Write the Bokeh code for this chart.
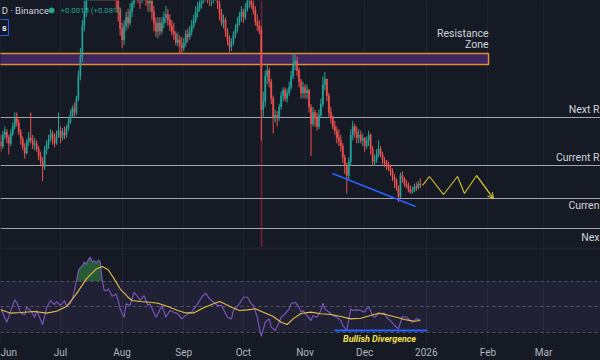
from bokeh.plotting import figure
from bokeh.layouts import column
from bokeh.models import (ColumnDataSource, Range1d, FixedTicker, Arrow, OpenHead,
                          Span, GlobalInlineStyleSheet)
from bokeh.core.properties import value
from bokeh.embed import file_html
from bokeh.resources import INLINE

# ---------------- data (x = days since 2025-07-01) ----------------
first_day = -30
first_open = 2.19
jun_c = [2.16,2.24,2.26,2.22,2.18,2.25,2.30,2.36,2.33,2.26, 2.21,2.15,2.11,2.19,2.22,2.20,2.17,2.18,2.14,2.09,
         2.05,2.01,2.13,2.17,2.21,2.25,2.22,2.18,2.24,2.27]
jun_h = [2.24,2.27,2.30,2.28,2.24,2.28,2.33,2.40,2.40,2.35, 2.28,2.23,2.18,2.21,2.26,2.40,2.24,2.22,2.20,2.16,
         2.12,2.08,2.16,2.20,2.24,2.28,2.27,2.25,2.27,2.40]
jun_l = [2.12,2.14,2.21,2.18,2.10,2.16,2.23,2.28,2.30,2.24, 2.17,2.13,2.07,2.10,2.16,2.18,2.14,2.13,2.12,2.06,
         2.02,1.91,1.99,2.10,2.14,2.19,2.17,2.15,2.17,2.22]
jul_c = [2.22,2.26,2.24,2.29,2.33,2.38,2.43,2.40,2.50,2.66, 2.80,3.02,3.12,3.30,3.40,3.45,3.55,3.58,3.50,3.52,
         3.56,3.45,3.38,3.30,3.35,3.38,3.32,3.28,3.22,3.12, 3.00]
jul_h = [2.30,2.29,2.30,2.31,2.36,2.42,2.45,2.47,2.52,2.70, 2.86,3.06,3.20,3.35,3.50,3.55,3.62,3.66,3.62,3.60,
         3.65,3.60,3.50,3.42,3.40,3.45,3.42,3.38,3.32,3.26, 3.15]
jul_l = [2.18,2.20,2.21,2.22,2.27,2.32,2.36,2.37,2.38,2.48, 2.63,2.76,2.98,3.08,3.28,3.36,3.40,3.45,3.42,3.44,
         3.47,3.40,3.30,3.24,3.26,3.30,3.25,3.22,3.14,3.05, 2.95]
aug_c = [2.92,3.02,3.08,3.04,3.12,3.18,3.35,3.30,3.25,3.22, 3.28,3.30,3.22,3.18,3.20,3.12,3.04,2.98,3.04,2.98,
         3.04,3.08,3.10,3.06,3.02,2.98,2.96,2.90,2.92,2.88, 2.86]
aug_h = [3.04,3.06,3.12,3.14,3.18,3.24,3.40,3.38,3.35,3.30, 3.34,3.38,3.35,3.28,3.26,3.24,3.16,3.08,3.08,3.08,
         3.08,3.12,3.16,3.14,3.10,3.06,3.04,2.98,2.97,2.95, 2.94]
aug_l = [2.86,2.88,2.98,3.00,3.02,3.08,3.15,3.22,3.18,3.14, 3.18,3.22,3.16,3.12,3.12,3.06,2.98,2.94,2.93,2.95,
         2.96,3.00,3.04,3.02,2.98,2.95,2.92,2.88,2.87,2.82, 2.82]
sep_c = [2.90,2.96,2.94,2.98,3.02,3.06,3.12,3.15,3.18,3.22, 3.25,3.28,3.24,3.20,3.22,3.25,3.28,3.18,3.10,3.04,
         3.06,2.98,2.92,2.87,2.90,2.96,3.00,3.04,3.09,3.12]
sep_h = [2.93,2.99,3.00,3.02,3.06,3.10,3.16,3.19,3.22,3.28, 3.30,3.34,3.32,3.28,3.28,3.30,3.32,3.30,3.22,3.14,
         3.10,3.08,3.00,2.95,2.93,2.98,3.03,3.08,3.12,3.16]
sep_l = [2.84,2.87,2.90,2.92,2.95,3.00,3.04,3.08,3.12,3.14, 3.18,3.20,3.18,3.16,3.16,3.18,3.20,3.14,3.06,3.02,
         3.00,2.94,2.88,2.83,2.84,2.88,2.93,2.97,3.02,3.05]
oct_c = [3.08,3.14,3.20,3.22,3.17,3.13,3.05,3.02,2.99,2.42, 2.48,2.66,2.70,2.62,2.50,2.36,2.38,2.36,2.44,2.52,
         2.56,2.50,2.54,2.58,2.66,2.74,2.77,2.70,2.62,2.54, 2.58]
oct_h = [3.14,3.18,3.24,3.28,3.26,3.22,3.16,3.10,3.06,3.02, 2.55,2.70,2.74,2.72,2.64,2.52,2.42,2.41,2.46,2.55,
         2.58,2.58,2.57,2.62,2.70,2.82,2.82,2.80,2.72,2.64, 2.62]
oct_l = [3.04,3.06,3.12,3.15,3.14,3.10,3.02,2.98,2.96,2.20, 2.36,2.44,2.60,2.58,2.46,2.25,2.33,2.30,2.34,2.42,
         2.48,2.48,2.47,2.52,2.56,2.64,2.70,2.66,2.58,2.50, 2.50]
nov_c = [2.54,2.56,2.44,2.32,2.40,2.36,2.30,2.38,2.46,2.60, 2.64,2.52,2.40,2.36,2.30,2.27,2.22,2.20,2.16,2.08,
         2.02,1.95,2.05,2.24,2.30,2.26,2.22,2.24,2.20,2.22]
nov_h = [2.60,2.60,2.57,2.46,2.44,2.42,2.40,2.42,2.50,2.66, 2.69,2.64,2.54,2.44,2.38,2.34,2.30,2.28,2.24,2.18,
         2.10,2.04,2.08,2.28,2.34,2.32,2.30,2.28,2.27,2.25]
nov_l = [2.50,2.50,2.40,2.09,2.30,2.30,2.27,2.28,2.36,2.44, 2.56,2.48,2.36,2.32,2.28,2.24,2.18,2.16,2.12,2.04,
         1.96,1.82,1.92,2.02,2.20,2.22,2.18,2.18,2.18,2.16]
dec_c = [2.16,2.20,2.24,2.14,2.05,2.06,2.10,2.14,2.10,2.06, 2.04,2.02,2.00,1.98,1.94,1.92,1.86,1.80,1.95,1.93,
         1.89,1.88,1.85,1.83,1.84,1.87,1.86,1.89,1.88]
dec_h = [2.22,2.23,2.27,2.25,2.16,2.10,2.14,2.20,2.16,2.12, 2.08,2.06,2.05,2.03,2.00,1.96,1.93,1.88,1.97,1.98,
         1.94,1.92,1.90,1.88,1.87,1.89,1.90,1.91,1.93]
dec_l = [2.12,2.14,2.16,2.10,2.02,2.02,2.04,2.08,2.08,2.03, 2.01,1.99,1.98,1.95,1.91,1.86,1.84,1.76,1.79,1.90,
         1.87,1.86,1.83,1.82,1.82,1.83,1.84,1.85,1.86]

zone_x = [-34.0, 215.3]
zone_price = [2.743, 2.821]
levels = [2.364, 2.021, 1.786, 1.571]
level_labels = ["Next R", "Current R", "Curren", "Nex"]
level_label_y = [2.422, 2.079, 1.733, 1.507]
label_right_x = 271.1
crash_day = [101]
trend_x = [136.8, 178.6]
trend_y = [1.964, 1.729]
zig_x = [182.1, 185.6, 192.7, 199.7, 203.2, 209.3, 217.8]
zig_y = [1.879, 1.943, 1.814, 1.943, 1.821, 1.950, 1.784]

rsi_days = [-30,-27,-25,-23,-22,-20,-18,-17,-15,-13,-12,-9,-8,-7,-5,-3,-2,0,2,3,5,6,7,8,9,10,11,12,13,14,
            15,16,17,18,19,20,21,22,23,24,26,28,29,30,32,33,35,37,39,40,42,44,45,48,49,51,53,55,57,59,
            61,64,66,69,71,73,75,76,79,81,84,86,87,90,92,94,96,97,99,100,101,103,105,106,108,110,111,113,115,116,
            118,120,121,122,124,126,127,129,131,132,133,136,137,139,141,142,144,146,147,149,151,153,154,155,157,158,160,163,164,166,
            168,170,172,174,177,179,181]
rsi_vals = [48.2,37.7,46.9,55.2,53.0,44.8,43.5,49.5,46.9,41.6,46.9,35.9,42.0,49.0,54.7,51.5,53.9,50.8,54.7,50.0,52.6,56.0,62.5,70.0,78.2,80.5,82.0,85.0,83.0,87.0,
            88.7,85.0,86.0,84.0,86.5,85.0,70.4,62.5,62.5,63.9,58.0,59.9,54.7,48.0,41.6,52.1,50.8,61.2,57.3,54.7,58.6,50.8,52.1,41.6,44.3,50.8,41.6,46.9,45.6,44.3,
            40.3,44.3,45.6,52.1,57.3,60.5,56.0,54.7,50.8,50.8,41.6,40.3,46.9,52.1,57.3,57.3,52.1,50.8,41.6,33.0,26.5,37.7,40.3,33.8,31.2,37.7,41.6,44.3,48.2,52.1,
            53.4,49.5,45.6,46.9,42.9,39.0,42.9,41.6,46.9,52.6,48.2,44.3,42.9,41.6,39.0,35.1,31.2,48.2,46.9,47.4,46.9,45.6,48.2,50.0,42.9,41.6,44.3,44.8,41.6,39.0,
            35.1,32.5,42.2,41.6,37.7,40.3,39.8]
ma_days = [-30,-25,-20,-13,-7,-2,3,8,13,18,21,24,27,30,34,36,40,45,49,54,59,63,67,72,77,80,82,86,90,94,
           98,102,107,111,114,117,121,126,131,136,141,146,151,156,160,164,169,174,178,181]
ma_vals = [47.4,44.8,45.3,46.1,44.8,46.3,50.0,59.9,71.7,79.5,81.4,78.8,71.7,63.9,57.3,54.7,53.9,53.4,52.6,50.0,
           46.9,45.0,45.0,49.0,52.1,53.9,52.6,49.5,46.9,47.4,48.2,45.6,42.2,37.7,35.9,40.3,44.5,45.6,44.3,43.7,
           42.2,40.3,40.8,42.9,44.8,43.5,41.6,39.5,38.5,39.0]
rsi_levels = [70, 50, 30]
div_x = [137.8, 184.6]
div_y = [31.2, 31.2]

grid_days = [-30, 0, 31, 62, 92, 123, 153, 184, 215, 243]
tick_days = [-26, 0, 31, 62, 92, 123, 153, 184, 215, 243]
tick_labels = ["Jun", "Jul", "Aug", "Sep", "Oct", "Nov", "Dec", "2026", "Feb", "Mar"]

# ---------------- styling ----------------
BG = "#161a25"
GRID = "#1f2331"
UP = "#26a69a"
DOWN = "#ef5350"
TXT = "#d1d4dc"
FONT = "Roboto"
W = 600

close = jun_c + jul_c + aug_c + sep_c + oct_c + nov_c + dec_c
high = jun_h + jul_h + aug_h + sep_h + oct_h + nov_h + dec_h
low = jun_l + jul_l + aug_l + sep_l + oct_l + nov_l + dec_l
days = list(range(first_day, first_day + len(close)))
opens = [first_open] + close[:-1]
cols = [UP if c >= o else DOWN for o, c in zip(opens, close)]
src = ColumnDataSource(dict(d=days, o=opens, c=close, h=high, l=low, col=cols))

x_rng = Range1d(-30.18, 271.63)

p = figure(width=W, height=247, x_range=x_rng, y_range=Range1d(1.4357, 3.20),
           output_backend="svg", toolbar_location=None,
           x_axis_location=None, y_axis_location=None, min_border=0,
           background_fill_color=BG, border_fill_color=BG, outline_line_color=None)
p.xgrid.ticker = FixedTicker(ticks=grid_days)
p.xgrid.grid_line_color = GRID
p.ygrid.visible = False

# resistance zone
p.quad(left=zone_x[0], right=zone_x[1], bottom=zone_price[0], top=zone_price[1],
       fill_color="#3d2560", line_color="#e08d2e", line_width=1.5)
# levels
p.hspan(y=levels, line_color="#a2a5ae", line_width=1.2)
# crash vertical line
p.vspan(x=crash_day, line_color="#f23645", line_alpha=0.4, line_width=1.6)

# candles
p.segment(x0="d", y0="l", x1="d", y1="h", line_color="col", line_width=1, source=src)
p.vbar(x="d", width=0.62, top="o", bottom="c", fill_color="col", line_color="col",
       line_width=0.4, source=src)

# drawings
p.line(trend_x, trend_y, line_color="#2962ff", line_width=1.6)
p.line(zig_x, zig_y, line_color="#d6c22e", line_width=1.1)
p.add_layout(Arrow(end=OpenHead(size=6, line_color="#d6c22e", line_width=1.1),
                   x_start=zig_x[-2], y_start=zig_y[-2], x_end=zig_x[-1], y_end=zig_y[-1],
                   line_color="#d6c22e", line_width=1.1))

p.text(x=[215.3, 215.3], y=[2.962, 2.886], text=["Resistance", "Zone"], text_align="right",
       text_baseline="middle", text_color=TXT, text_font=value(FONT), text_font_size="10.5px")
p.text(x=[label_right_x] * 4, y=level_label_y, text=level_labels, text_align="right",
       text_baseline="middle", text_color=TXT, text_font=value(FONT), text_font_size="10.5px")

# header
p.text(x=[-29.6], y=[3.129], text=["D \u00b7 Binance"], text_align="left", text_baseline="middle",
       text_color=TXT, text_font=value(FONT), text_font_size="9.5px")
p.scatter(x=[-4.5], y=[3.129], size=5, color="#22ab94")
p.text(x=[0.0], y=[3.129], text=["+0.0015 (+0.08%)"], text_align="left", text_baseline="middle",
       text_color="#22ab94", text_font=value(FONT), text_font_size="7.8px")
p.quad(left=-34, right=-26.2, bottom=2.95, top=3.064, fill_color="#131722",
       line_color="#2962ff", line_width=1)
p.text(x=[-28.3], y=[3.006], text=["s"], text_align="center", text_baseline="middle",
       text_color="#e8ecff", text_font=value(FONT), text_font_size="9px", text_font_style="bold")

# ---------------- RSI pane ----------------
p2 = figure(width=W, height=113, x_range=x_rng, y_range=Range1d(21.0, 96.3),
            output_backend="svg", toolbar_location=None, y_axis_location=None,
            min_border=0, min_border_bottom=17,
            background_fill_color=BG, border_fill_color=BG, outline_line_color=None)
p2.xaxis.ticker = FixedTicker(ticks=tick_days)
p2.xaxis.major_label_overrides = dict(zip(tick_days, tick_labels))
p2.xaxis.axis_line_color = None
p2.xaxis.major_tick_line_color = None
p2.xaxis.minor_tick_line_color = None
p2.xaxis.major_tick_out = 0
p2.xaxis.major_tick_in = 0
p2.xaxis.minor_tick_out = 0
p2.xaxis.major_label_standoff = 3
p2.xaxis.major_label_text_color = "#b2b5be"
p2.xaxis.major_label_text_font = FONT
p2.xaxis.major_label_text_font_size = "10px"
p2.xgrid.ticker = FixedTicker(ticks=grid_days)
p2.xgrid.grid_line_color = GRID
p2.ygrid.visible = False

p2.harea(x1=-40, x2=300, y=[30, 70], fill_color="#7e57c2", fill_alpha=0.11)
p2.hspan(y=rsi_levels, line_color="#787b86", line_dash="3 3", line_width=1, line_alpha=0.6)
p2.add_layout(Span(location=95.8, dimension="width", line_color="#2a2e39", line_width=1))

g_days = [d for d in rsi_days if 7 <= d <= 22]
g_vals = [max(v, 70) for d, v in zip(rsi_days, rsi_vals) if 7 <= d <= 22]
p2.varea(x=g_days, y1=70, y2=g_vals, fill_color="#3a8f48", fill_alpha=0.55)

p2.line(rsi_days, rsi_vals, line_color="#7e57c2", line_width=1.1)
p2.line(ma_days, ma_vals, line_color="#e6bf45", line_width=1.1)
p2.line(div_x, div_y, line_color="#2962ff", line_width=2)
p2.text(x=[160.5], y=[24.9], text=["Bullish Divergence"], text_align="center", text_baseline="middle",
        text_color="#f5e14e", text_font=value(FONT), text_font_size="9px",
        text_font_style="bold italic")

layout = column(p, p2, stylesheets=[GlobalInlineStyleSheet(
    css="html,body{margin:0;padding:0;background:#161a25;overflow:hidden;}")])
open("out.html", "w").write(file_html(layout, INLINE))
